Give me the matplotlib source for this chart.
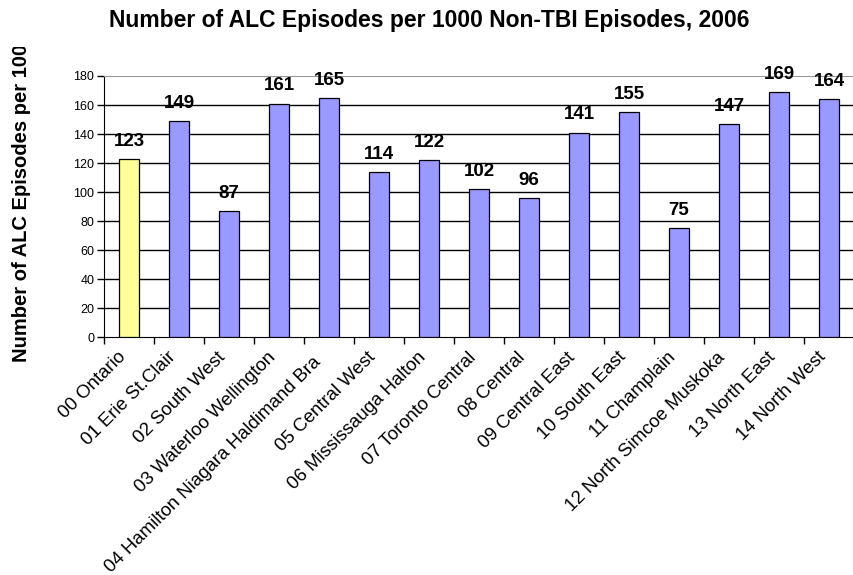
import matplotlib
matplotlib.use("Agg")
import matplotlib.pyplot as plt
from matplotlib.transforms import Bbox, ScaledTranslation
import numpy as np

categories = ["00 Ontario", "01 Erie St.Clair", "02 South West", "03 Waterloo Wellington",
              "04 Hamilton Niagara Haldimand Bra", "05 Central West", "06 Mississauga Halton",
              "07 Toronto Central", "08 Central", "09 Central East", "10 South East",
              "11 Champlain", "12 North Simcoe Muskoka", "13 North East", "14 North West"]
values = [123, 149, 87, 161, 165, 114, 122, 102, 96, 141, 155, 75, 147, 169, 164]
yticks = [0, 20, 40, 60, 80, 100, 120, 140, 160, 180]
title = "Number of ALC Episodes per 1000 Non-TBI Episodes, 2006"
ylabel = "Number of ALC Episodes per 1000 Non-TBI Episodes"

plt.rcParams['font.family'] = ['Liberation Sans', 'DejaVu Sans']

W, H = 854, 575
fig = plt.figure(figsize=(W / 100, H / 100), dpi=100)
ax = fig.add_axes([104 / W, (H - 337.3) / H, 750 / W, 261.3 / H])

x = np.arange(len(categories))
colors = ['#FFFF99'] + ['#9999FF'] * (len(categories) - 1)
ax.bar(x, values, width=0.4, color=colors, edgecolor='black', linewidth=0.9, zorder=3)

for xi, v in zip(x, values):
    ax.annotate(str(v), (xi, v), xytext=(0, 9.5), textcoords='offset points',
                ha='center', va='baseline', fontsize=13.5, fontweight='bold', zorder=4)

ax.set_xlim(-0.5, len(categories) - 0.5)
ax.set_ylim(0, 180)
ax.set_yticks(yticks)
ax.tick_params(axis='y', labelsize=9, length=5, width=1, pad=2, direction='out')
for yv in yticks[1:-1]:
    ax.axhline(yv, color='black', linewidth=1.0, zorder=1)

ax.set_xticks(x)
ax.set_xticklabels(categories, rotation=45, ha='right', va='center',
                   rotation_mode='anchor', fontsize=13.4)
ax.tick_params(axis='x', which='major', length=0, pad=12.5)
shift = ScaledTranslation(-6 / 100, 0, fig.dpi_scale_trans)
extra = ScaledTranslation(-5 / 100, -5 / 100, fig.dpi_scale_trans)
for i, lbl in enumerate(ax.get_xticklabels()):
    t = lbl.get_transform() + shift
    if i == 4:
        t = t + extra
    lbl.set_transform(t)
ax.set_xticks(np.arange(-0.5, len(categories)), minor=True)
ax.tick_params(axis='x', which='minor', length=5, width=1, direction='out')

ax.spines['right'].set_visible(False)
ax.spines['top'].set_color('#999999')
ax.spines['left'].set_color('black')
ax.spines['bottom'].set_color('black')

fig.text(429 / W, 1 - 21 / H, title, ha='center', va='center',
         fontsize=16.5, fontweight='bold')

yl = fig.text(22 / W, 1 - 362 / H, ylabel, rotation=90, ha='center', va='bottom',
              fontsize=14.5, fontweight='bold')
yl.set_clip_on(True)
yl.set_clip_box(Bbox.from_extents(0, 0, W, H - 47))

fig.savefig("out.png", dpi=100, facecolor='white')
